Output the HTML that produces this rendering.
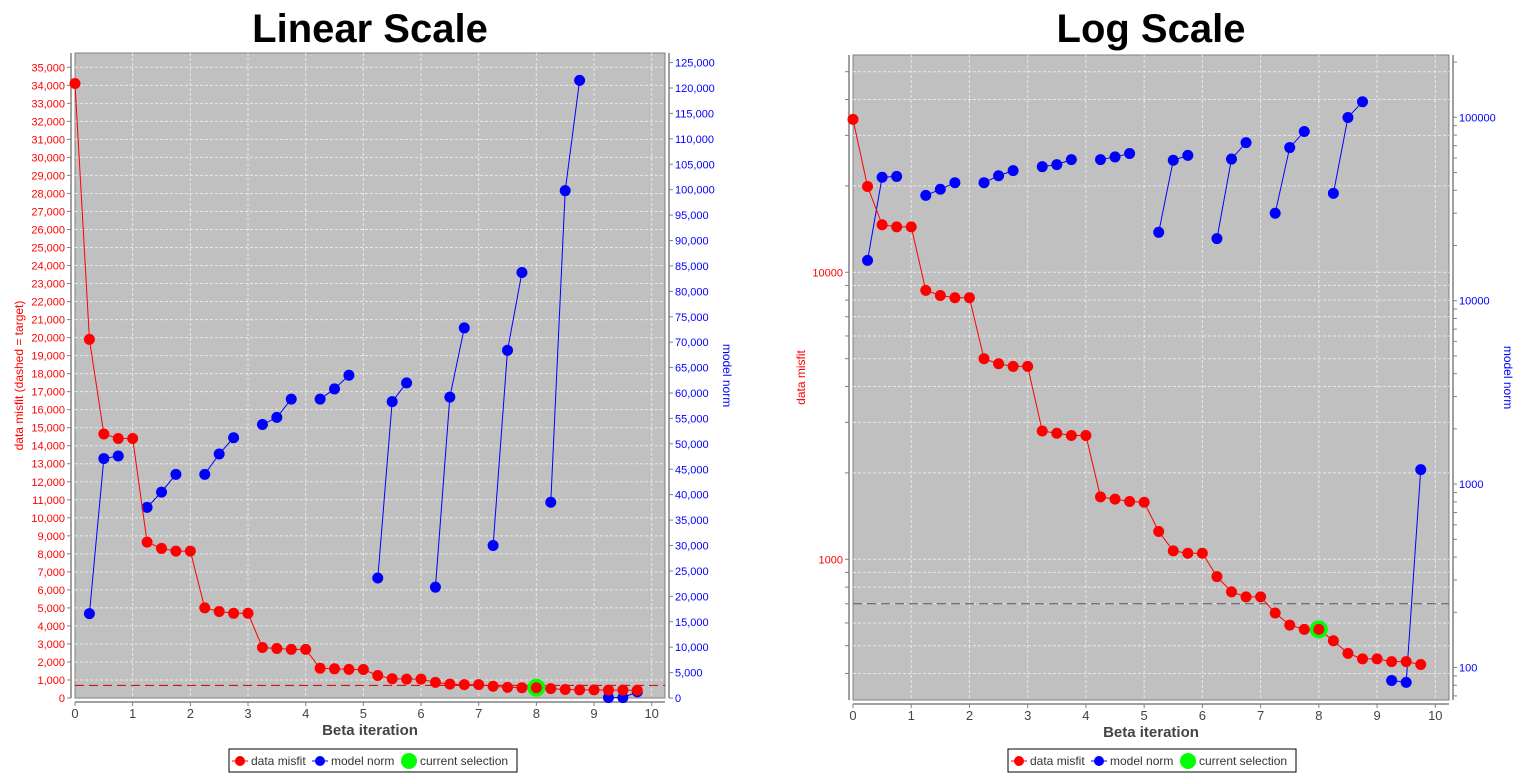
<!DOCTYPE html>
<html><head><meta charset="utf-8">
<style>
html,body{margin:0;padding:0;background:#fff;width:1531px;height:774px;overflow:hidden}
svg text{font-family:"Liberation Sans",Arial,sans-serif}
</style></head>
<body>
<svg id="s" width="1531" height="774" xmlns="http://www.w3.org/2000/svg"></svg>
<script>
const xs = [0,0.25,0.5,0.75,1,1.25,1.5,1.75,2,2.25,2.5,2.75,3,3.25,3.5,3.75,4,4.25,4.5,4.75,5,5.25,5.5,5.75,6,6.25,6.5,6.75,7,7.25,7.5,7.75,8,8.25,8.5,8.75,9,9.25,9.5,9.75];
const misfit = [34100,19900,14650,14400,14400,8650,8300,8150,8150,5000,4800,4700,4700,2800,2750,2700,2700,1650,1620,1590,1580,1250,1070,1050,1050,870,770,740,740,650,590,570,570,520,470,450,450,440,440,430];
const modelNorm = [null,16600,47100,47600,null,37500,40500,44000,null,44000,48000,51200,null,53800,55200,58800,null,58800,60800,63500,null,23600,58300,62000,null,21800,59200,72800,null,30000,68400,83700,null,38500,99800,121500,null,85,83,1200];
const target = 700;
const selectedX = 8;
const linLeftTicks = [0,1000,2000,3000,4000,5000,6000,7000,8000,9000,10000,11000,12000,13000,14000,15000,16000,17000,18000,19000,20000,21000,22000,23000,24000,25000,26000,27000,28000,29000,30000,31000,32000,33000,34000,35000];
const linRightTicks = [0,5000,10000,15000,20000,25000,30000,35000,40000,45000,50000,55000,60000,65000,70000,75000,80000,85000,90000,95000,100000,105000,110000,115000,120000,125000];
const xTicks = [0,1,2,3,4,5,6,7,8,9,10];
const logLeftMajor = [1000,10000];
const logRightMajor = [100,1000,10000,100000];

const S = document.getElementById('s');
const NS = 'http://www.w3.org/2000/svg';
function el(tag, attrs, parent){const e=document.createElementNS(NS,tag);for(const k in attrs)e.setAttribute(k,attrs[k]);(parent||S).appendChild(e);return e;}
function fmt(v){return v.toString().replace(/\B(?=(\d{3})+(?!\d))/g, ',');}

function drawChart(o){
  const g = el('g',{});
  
  
  const L=o.L,R=o.R,T=o.T,B=o.B;
  const X = v => L + (v - 0) / 10 * (o.x10 - L);
  // title
  const t = el('text',{x:(L+R)/2,y:42,'text-anchor':'middle','font-size':40,'font-weight':'bold',fill:'#000'},g);
  t.textContent=o.title;
  
  
  // plot bg
  const bg = el('rect',{x:L,y:T,width:R-L,height:B-T,fill:'#c0c0c0',stroke:'#808080','stroke-width':1},g);
  
  
  // grid
  o.hgrid.forEach(yv=>{ if(yv>T && yv<B) el('line',{x1:L,x2:R,y1:yv,y2:yv,stroke:'#e8e8e8','stroke-dasharray':'3,2','stroke-width':1},g);});
  xTicks.forEach(v=>{ if(v>0){const x=X(v); el('line',{x1:x,x2:x,y1:T,y2:B,stroke:'#e8e8e8','stroke-dasharray':'3,2'},g);} });
  // axes
  el('line',{x1:L-4,x2:L-4,y1:T,y2:B,stroke:'#808080','stroke-width':1.5},g);
  el('line',{x1:R+4,x2:R+4,y1:T,y2:B,stroke:'#808080','stroke-width':1.5},g);
  el('line',{x1:L,x2:R,y1:B+4,y2:B+4,stroke:'#808080','stroke-width':1.5},g);
  xTicks.forEach(v=>{const x=X(v);
    el('line',{x1:x,x2:x,y1:B+4,y2:B+8,stroke:'#808080'},g);
    const tx=el('text',{x:x,y:B+20,'text-anchor':'middle','font-size':13,fill:'#444'},g);
    tx.textContent=v;
    
    
  });
  o.leftTicks.forEach(tk=>{
    el('line',{x1:L-8,x2:L-4,y1:tk.y,y2:tk.y,stroke:'#808080'},g);
    if(tk.label!==''){const tx=el('text',{x:L-10,y:tk.y+4,'text-anchor':'end','font-size':11,fill:'#ff0000'},g);tx.textContent=tk.label;
      
      }
  });
  o.rightTicks.forEach(tk=>{
    el('line',{x1:R+4,x2:R+8,y1:tk.y,y2:tk.y,stroke:'#808080'},g);
    if(tk.label!==''){const tx=el('text',{x:R+10,y:tk.y+4,'font-size':11,fill:'#0000ff'},g);tx.textContent=tk.label;
      
      }
  });
  // axis titles
  const xl=el('text',{x:(L+R)/2,y:B+37,'text-anchor':'middle','font-size':15,'font-weight':'bold',fill:'#444'},g);
  xl.textContent='Beta iteration';
  
  
  const yl=el('text',{x:0,y:0,'text-anchor':'middle','font-size':12,fill:'#ff0000',transform:`translate(${o.ylx},${(T+B)/2}) rotate(-90)`},g);
  yl.textContent=o.ylabel;
  
  
  const yr=el('text',{x:0,y:0,'text-anchor':'middle','font-size':12,fill:'#0000ff',transform:`translate(${o.yrx},${(T+B)/2}) rotate(90)`},g);
  yr.textContent='model norm';
  
  
  // target
  const ty=o.YL(target);
  const tl=el('line',{x1:L,x2:R,y1:ty,y2:ty,stroke:o.targetColor,'stroke-dasharray':'9,5','stroke-width':1},g);
  
  
  // blue series
  let seg=[];
  const flush=()=>{ if(seg.length>1){const p=el('polyline',{points:seg.join(' '),fill:'none',stroke:'#0000ff','stroke-width':1},g);
    
    } seg=[]; };
  xs.forEach((x,i)=>{const v=modelNorm[i]; if(v==null){flush();return;} seg.push(X(x)+','+o.YR(v));});
  flush();
  xs.forEach((x,i)=>{const v=modelNorm[i]; if(v==null)return;
    const c=el('circle',{cx:X(x),cy:Math.min(o.YR(v),B+2),r:5.5,fill:'#0000ff'},g);
    
    });
  // red series
  const rp=el('polyline',{points:xs.map((x,i)=>X(x)+','+o.YL(misfit[i])).join(' '),fill:'none',stroke:'#ff0000','stroke-width':1},g);
  
  
  const si=xs.indexOf(selectedX);
  const sc=el('circle',{cx:X(selectedX),cy:o.YL(misfit[si]),r:9,fill:'#00ff00'},g);
  
  
  xs.forEach((x,i)=>{const c=el('circle',{cx:X(x),cy:o.YL(misfit[i]),r:5.5,fill:'#ff0000'},g);
    
    });
  // legend
  const lg=el('g',{},g);
  
  
  const lx=o.legX;
  el('rect',{x:lx,y:749,width:288,height:23,fill:'#fff',stroke:'#000','stroke-width':1},lg);
  el('line',{x1:lx+3,x2:lx+19,y1:761,y2:761,stroke:'#ff0000'},lg);
  el('circle',{cx:lx+11,cy:761,r:5,fill:'#ff0000'},lg);
  let a=el('text',{x:lx+22,y:765,'font-size':12,fill:'#333'},lg);a.textContent='data misfit';
  el('line',{x1:lx+83,x2:lx+99,y1:761,y2:761,stroke:'#0000ff'},lg);
  el('circle',{cx:lx+91,cy:761,r:5,fill:'#0000ff'},lg);
  a=el('text',{x:lx+102,y:765,'font-size':12,fill:'#333'},lg);a.textContent='model norm';
  el('circle',{cx:lx+180,cy:761,r:8,fill:'#00ff00'},lg);
  a=el('text',{x:lx+191,y:765,'font-size':12,fill:'#333'},lg);a.textContent='current selection';
}

// Linear chart
(function(){
  const T=53,B=698;
  const YL=v=>B - v*(B-67.3)/35000;
  const YR=v=>B - v*(B-88)/120000;
  drawChart({name:'linear-chart',title:'Linear Scale',L:75,R:665,T:T,B:B,x10:651.7,YL:YL,YR:YR,
    hgrid:linLeftTicks.map(YL),
    leftTicks:linLeftTicks.map(v=>({y:YL(v),label:fmt(v)})),
    rightTicks:linRightTicks.map(v=>({y:YR(v),label:fmt(v)})),
    ylabel:'data misfit (dashed = target)',ylx:23,yrx:723,targetColor:'#cc0000',legX:229});
})();
// Log chart
(function(){
  const T=55,B=700;
  const YL=v=>272.3 - (Math.log10(v)-4)*287;
  const YR=v=>117.3 - (Math.log10(v)-5)*183.4;
  const lt=[],rt=[],hg=[];
  [100,1000,10000].forEach(d=>{for(let m=1;m<10;m++){const v=d*m,y=YL(v);if(y>T&&y<B){hg.push(y);lt.push({y:y,label:logLeftMajor.includes(v)?String(v):''});}}});
  [10,100,1000,10000,100000].forEach(d=>{for(let m=1;m<10;m++){const v=d*m,y=YR(v);if(y>T&&y<B){rt.push({y:y,label:logRightMajor.includes(v)?String(v):''});}}});
  drawChart({name:'log-chart',title:'Log Scale',L:853,R:1449,T:T,B:B,x10:1435.3,YL:YL,YR:YR,
    hgrid:hg,leftTicks:lt,rightTicks:rt,ylabel:'data misfit',ylx:805,yrx:1504,targetColor:'#555555',legX:1008});
})();
</script>
</body></html>
